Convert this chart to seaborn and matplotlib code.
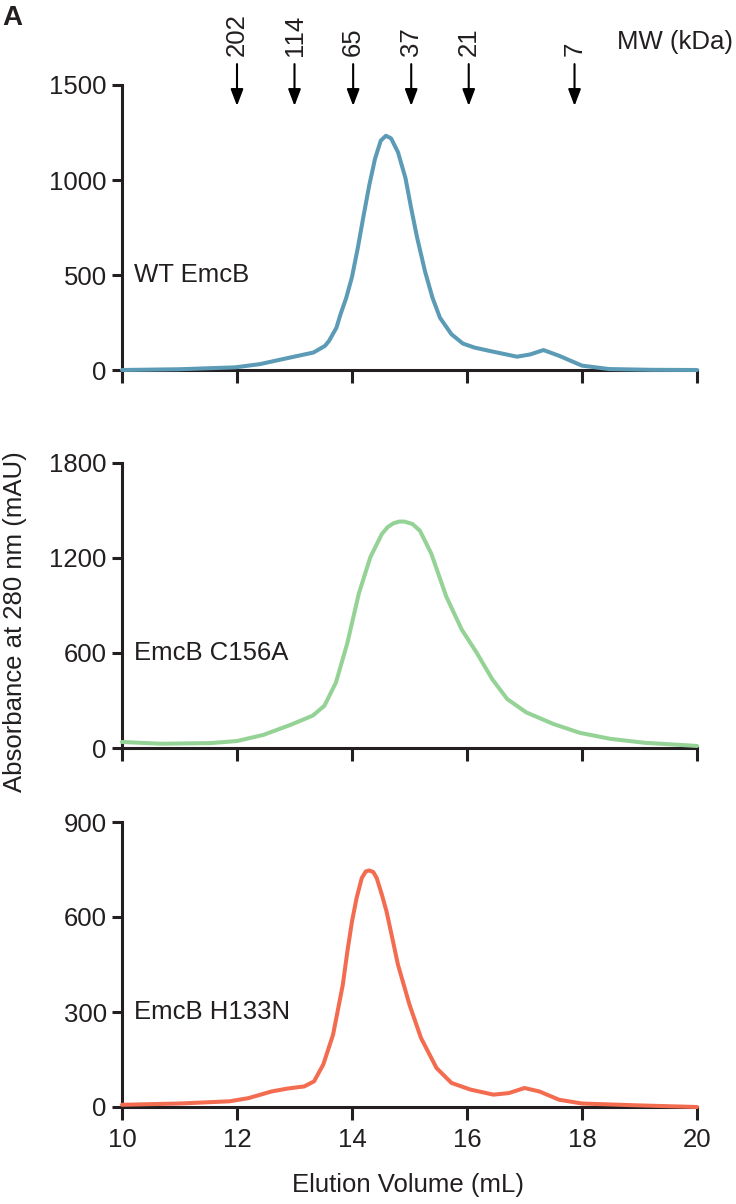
import matplotlib
matplotlib.use("Agg")
import matplotlib.pyplot as plt
import seaborn as sns

# ---------- Data ----------
wt_vol = [10.0, 11.0, 11.97, 12.4, 12.93, 13.33, 13.53, 13.6, 13.73, 13.8, 13.9, 14.0,
          14.1, 14.2, 14.3, 14.4, 14.5, 14.59, 14.68, 14.8, 14.93, 15.03, 15.13, 15.27,
          15.4, 15.53, 15.73, 15.93, 16.13, 16.4, 16.87, 17.1, 17.33, 17.6, 18.0, 18.47,
          19.2, 20.0]
wt_abs = [0, 4, 14, 31, 66, 92, 127, 153, 223, 293, 380, 490, 641, 810, 972, 1111, 1207,
          1233, 1219, 1146, 1010, 850, 700, 519, 380, 275, 188, 139, 118, 100, 70, 82,
          105, 75, 23, 5, 1, 0]

c156a_vol = [10.0, 10.68, 11.54, 12.0, 12.46, 12.93, 13.32, 13.52, 13.72, 13.92, 14.12,
             14.32, 14.52, 14.62, 14.72, 14.82, 14.91, 15.05, 15.18, 15.38, 15.64, 15.91,
             16.17, 16.44, 16.7, 17.03, 17.5, 17.96, 18.49, 19.09, 20.0]
c156a_abs = [38, 27, 31, 44, 83, 146, 205, 267, 413, 664, 977, 1206, 1352, 1395, 1419,
             1430, 1430, 1415, 1373, 1227, 956, 747, 601, 434, 309, 225, 152, 96, 58, 33,
             13]

h133n_vol = [10.0, 11.0, 11.87, 12.2, 12.6, 12.87, 13.17, 13.34, 13.5, 13.67, 13.75,
             13.84, 13.92, 14.0, 14.08, 14.17, 14.24, 14.3, 14.37, 14.43, 14.52, 14.6,
             14.7, 14.8, 14.9, 15.0, 15.2, 15.47, 15.73, 16.06, 16.46, 16.73, 17.0, 17.26,
             17.6, 18.0, 19.0, 20.0]
h133n_abs = [7, 11, 18, 28, 49, 58, 65, 81, 134, 228, 302, 386, 492, 586, 660, 723, 744,
             747, 742, 723, 670, 618, 534, 449, 386, 323, 218, 123, 76, 55, 39, 44, 60,
             49, 23, 11, 5, 0]

mw_vol = [12.0, 13.0, 14.02, 15.03, 16.03, 17.87]
mw_labels = ["202", "114", "65", "37", "21", "7"]

names = ["WT EmcB", "EmcB C156A", "EmcB H133N"]
colors = ["#5b9bb6", "#94d296", "#f36c50"]
ymax = [1500, 1800, 900]
yticks = [[0, 500, 1000, 1500], [0, 600, 1200, 1800], [0, 300, 600, 900]]

# ---------- Style ----------
sns.set_style("ticks")
plt.rcParams['font.family'] = ['Liberation Sans', 'DejaVu Sans']
ink = "#231f20"
plt.rcParams.update({
    'axes.edgecolor': ink, 'xtick.color': ink, 'ytick.color': ink,
    'text.color': ink, 'axes.labelcolor': ink,
})

fig = plt.figure(figsize=(7.36, 12.04), dpi=100)
left, width, height = 122 / 736, 575 / 736, 285 / 1204
bottoms = [1 - 370 / 1204, 1 - 748 / 1204, 1 - 1107 / 1204]
fs = 18.5

series = [(wt_vol, wt_abs), (c156a_vol, c156a_abs), (h133n_vol, h133n_abs)]
axes = []
for i, (vol, ab) in enumerate(series):
    ax = fig.add_axes([left, bottoms[i], width, height])
    sns.lineplot(x=vol, y=ab, ax=ax, color=colors[i], linewidth=2.9, zorder=4)
    for ln in ax.lines:
        ln.set_clip_on(False)
        ln.set_solid_capstyle('round')
        ln.set_solid_joinstyle('round')
    ax.set_xlim(10, 20)
    ax.set_ylim(0, ymax[i])
    ax.set_xticks([10, 12, 14, 16, 18, 20])
    ax.set_yticks(yticks[i])
    sns.despine(ax=ax)
    for s in ['left', 'bottom']:
        ax.spines[s].set_linewidth(2.2)
    ax.tick_params(axis='both', width=2.2, length=7, labelsize=fs, direction='out')
    ax.tick_params(axis='x', length=9, pad=6)
    ax.tick_params(axis='y', pad=4)
    if i < 2:
        ax.set_xticklabels([])
    ax.text(0.02, 1 / 3, names[i], transform=ax.transAxes, fontsize=fs,
            ha='left', va='center')
    axes.append(ax)

# MW markers above the top panel
ax0 = axes[0]
for v, lab in zip(mw_vol, mw_labels):
    ax0.annotate("", xy=(v, 1390), xytext=(v, 1610), annotation_clip=False,
                 arrowprops=dict(arrowstyle="-|>,head_length=1.0,head_width=0.38",
                                 color="black", lw=1.5, shrinkA=0, shrinkB=0))
    ax0.text(v, 1650, lab, rotation=90, ha='center', va='bottom', fontsize=fs,
             clip_on=False)
ax0.text(19.62, 1726, "MW (kDa)", ha='center', va='center', fontsize=fs, clip_on=False)

fig.text(2 / 736, 1 - 18 / 1204, "A", fontsize=20, fontweight='bold',
         ha='left', va='center')
fig.text(0.021, 1 - 622 / 1204, "Absorbance at 280 nm (mAU)", rotation=90,
         ha='center', va='center', fontsize=fs)
fig.text(408 / 736, 1 - 1185 / 1204, "Elution Volume (mL)", ha='center',
         va='center', fontsize=fs)

fig.savefig("out.png", dpi=100)
